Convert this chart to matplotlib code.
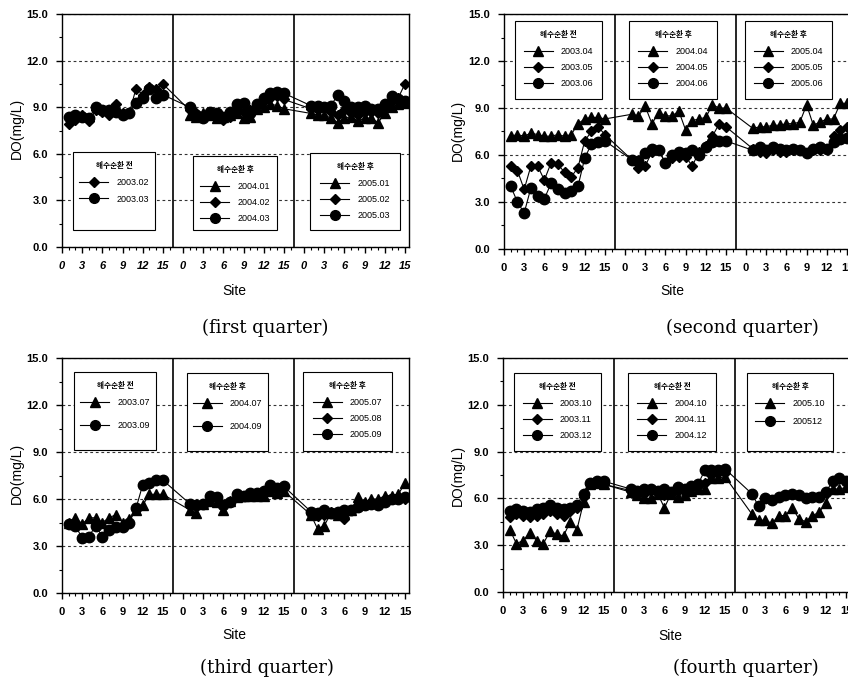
import matplotlib.pyplot as plt
import matplotlib.patches as mpatches
from matplotlib.lines import Line2D
import numpy as np

plt.rcParams['font.family'] = ['Liberation Sans', 'Noto Sans CJK KR']

W, H = 848, 683
sites = np.arange(1, 16)
offsets = [0, 18, 36]
dividers = [16.5, 34.5]
site_ticks = [0, 3, 6, 9, 12, 15]

# first quarter
q1_dia_2003 = [7.9, 8.2, 8.5, 8.1, 8.8, 8.7, 8.5, 9.2, 8.6, 8.6, 10.2, 9.8, 10.3, 10.2, 10.5]
q1_cir_2003 = [8.4, 8.5, 8.4, 8.3, 9.0, 8.8, 8.8, 8.7, 8.5, 8.6, 9.3, 9.6, 10.2, 9.6, 9.8]
q1_tri_2004 = [8.5, 8.4, 8.6, 8.5, 8.3, 8.4, 8.5, 8.6, 8.3, 8.4, 8.9, 9.0, 9.2, 9.1, 8.9]
q1_dia_2004 = [8.8, 8.6, 8.5, 8.6, 8.5, 8.2, 8.4, 8.9, 8.7, 8.8, 9.1, 9.4, 9.6, 9.7, 9.5]
q1_cir_2004 = [9.0, 8.5, 8.3, 8.7, 8.6, 8.4, 8.7, 9.2, 9.3, 8.6, 9.2, 9.6, 9.9, 10.0, 9.9]
q1_tri_2005 = [8.6, 8.5, 8.5, 8.3, 8.0, 8.3, 8.4, 8.1, 8.3, 8.3, 8.0, 8.6, 9.0, 9.2, 9.3]
q1_dia_2005 = [8.9, 8.8, 9.0, 8.7, 8.5, 8.8, 8.6, 8.5, 8.7, 8.7, 8.6, 9.0, 9.4, 9.6, 10.5]
q1_cir_2005 = [9.1, 9.1, 9.0, 9.1, 9.8, 9.4, 9.0, 9.0, 9.1, 8.9, 8.9, 9.2, 9.7, 9.5, 9.4]

# second quarter
q2_tri_2003 = [7.2, 7.3, 7.2, 7.4, 7.3, 7.2, 7.2, 7.3, 7.2, 7.3, 8.0, 8.3, 8.4, 8.4, 8.3]
q2_dia_2003 = [5.3, 5.0, 3.8, 5.3, 5.3, 4.4, 5.5, 5.4, 4.9, 4.6, 5.2, 6.9, 7.5, 7.8, 7.3]
q2_cir_2003 = [4.0, 3.0, 2.3, 3.9, 3.4, 3.2, 4.2, 3.8, 3.6, 3.7, 4.0, 5.8, 6.7, 6.8, 6.9]
q2_tri_2004 = [8.6, 8.5, 9.1, 8.0, 8.7, 8.5, 8.5, 8.8, 7.6, 8.2, 8.3, 8.4, 9.2, 9.0, 9.0]
q2_dia_2004 = [5.7, 5.2, 5.3, 6.2, 6.3, 5.5, 5.8, 5.9, 5.9, 5.3, 6.2, 6.6, 7.2, 8.0, 7.8]
q2_cir_2004 = [5.7, 5.6, 6.1, 6.4, 6.3, 5.5, 6.0, 6.2, 6.1, 6.3, 6.0, 6.5, 6.8, 6.9, 6.9]
q2_tri_2005 = [7.7, 7.8, 7.8, 7.9, 7.9, 8.0, 8.0, 8.1, 9.2, 7.9, 8.1, 8.3, 8.3, 9.3, 9.3]
q2_dia_2005 = [6.4, 6.2, 6.1, 6.3, 6.2, 6.2, 6.3, 6.3, 6.1, 6.3, 6.3, 6.4, 7.2, 7.6, 7.8]
q2_cir_2005 = [6.3, 6.5, 6.3, 6.5, 6.4, 6.3, 6.4, 6.3, 6.1, 6.4, 6.5, 6.4, 6.8, 7.0, 7.1]

# third quarter
q3_tri_2003 = [4.5, 4.8, 4.4, 4.8, 4.8, 4.5, 4.8, 5.0, 4.5, 4.7, 5.3, 5.6, 6.3, 6.3, 6.3]
q3_cir_2003 = [4.4, 4.3, 3.5, 3.6, 4.3, 3.6, 4.0, 4.2, 4.2, 4.5, 5.4, 6.9, 7.0, 7.2, 7.2]
q3_tri_2004 = [5.3, 5.1, 5.7, 5.9, 5.8, 5.3, 5.9, 6.1, 6.2, 6.2, 6.2, 6.2, 6.5, 6.4, 6.5]
q3_cir_2004 = [5.7, 5.6, 5.7, 6.2, 6.1, 5.6, 5.8, 6.3, 6.2, 6.4, 6.4, 6.5, 6.9, 6.7, 6.8]
q3_tri_2005 = [5.0, 4.1, 4.3, 5.1, 5.0, 5.1, 5.3, 6.1, 5.8, 6.0, 6.0, 6.2, 6.2, 6.3, 7.0]
q3_dia_2005 = [5.1, 4.9, 5.0, 5.2, 5.0, 4.7, 5.3, 5.5, 5.6, 5.8, 5.7, 5.9, 6.0, 6.1, 6.0]
q3_cir_2005 = [5.2, 5.1, 5.3, 5.1, 5.2, 5.3, 5.3, 5.5, 5.6, 5.7, 5.6, 5.8, 6.0, 6.0, 6.1]

# fourth quarter
q4_tri_2003 = [4.0, 3.1, 3.3, 3.8, 3.3, 3.1, 3.9, 3.7, 3.6, 4.5, 4.0, 5.8, 6.9, 7.0, 6.9]
q4_dia_2003 = [4.8, 5.0, 4.9, 4.8, 4.9, 5.0, 5.2, 5.0, 4.9, 5.2, 5.4, 6.1, 6.9, 7.0, 6.9]
q4_cir_2003 = [5.2, 5.3, 5.2, 5.1, 5.3, 5.4, 5.6, 5.4, 5.3, 5.4, 5.6, 6.3, 7.0, 7.1, 7.1]
q4_tri_2004 = [6.4, 6.2, 6.0, 6.0, 6.3, 5.4, 6.3, 6.1, 6.2, 6.5, 6.6, 6.6, 7.3, 7.3, 7.4]
q4_dia_2004 = [6.5, 6.4, 6.3, 6.5, 6.4, 6.2, 6.4, 6.5, 6.4, 6.7, 6.8, 7.0, 7.5, 7.6, 7.6]
q4_cir_2004 = [6.6, 6.5, 6.6, 6.6, 6.5, 6.6, 6.4, 6.7, 6.6, 6.8, 6.9, 7.8, 7.8, 7.8, 7.9]
q4_tri_2005 = [5.0, 4.6, 4.6, 4.4, 4.9, 4.9, 5.4, 4.7, 4.5, 4.9, 5.1, 5.7, 6.6, 6.6, 6.7]
q4_cir_2005 = [6.3, 5.5, 6.0, 5.9, 6.1, 6.2, 6.3, 6.2, 6.0, 6.1, 6.1, 6.4, 7.1, 7.3, 7.1]

before, after = '해수순환 전', '해수순환 후'

# (marker, values per section, legend label per section)
panels = [
    dict(caption='(first quarter)', titles=[before, after, after], series=[
        ('^', [None, q1_tri_2004, q1_tri_2005], [None, '2004.01', '2005.01']),
        ('D', [q1_dia_2003, q1_dia_2004, q1_dia_2005], ['2003.02', '2004.02', '2005.02']),
        ('o', [q1_cir_2003, q1_cir_2004, q1_cir_2005], ['2003.03', '2004.03', '2005.03'])]),
    dict(caption='(second quarter)', titles=[before, after, after], series=[
        ('^', [q2_tri_2003, q2_tri_2004, q2_tri_2005], ['2003.04', '2004.04', '2005.04']),
        ('D', [q2_dia_2003, q2_dia_2004, q2_dia_2005], ['2003.05', '2004.05', '2005.05']),
        ('o', [q2_cir_2003, q2_cir_2004, q2_cir_2005], ['2003.06', '2004.06', '2005.06'])]),
    dict(caption='(third quarter)', titles=[before, after, after], series=[
        ('^', [q3_tri_2003, q3_tri_2004, q3_tri_2005], ['2003.07', '2004.07', '2005.07']),
        ('D', [None, None, q3_dia_2005], [None, None, '2005.08']),
        ('o', [q3_cir_2003, q3_cir_2004, q3_cir_2005], ['2003.09', '2004.09', '2005.09'])]),
    dict(caption='(fourth quarter)', titles=[before, before, after], series=[
        ('^', [q4_tri_2003, q4_tri_2004, q4_tri_2005], ['2003.10', '2004.10', '2005.10']),
        ('D', [q4_dia_2003, q4_dia_2004, None], ['2003.11', '2004.11', None]),
        ('o', [q4_cir_2003, q4_cir_2004, q4_cir_2005], ['2003.12', '2004.12', '200512'])]),
]

# layout in pixels: axes (left, top, bottom), caption, site label, y label centres,
# legend boxes (x0, x1, y0, y1) and the row spacing inside each box
layout = [
    dict(ax=(62, 14, 247), cap=(265, 328), site=(234, 291), ylab=(17, 128),
         boxes=[(73, 155, 152, 230), (193, 277, 156, 230), (310, 400, 153, 230)],
         spacing=[0.8, 0.75, 0.75]),
    dict(ax=(504, 14, 249), cap=(742, 328), site=(672, 291), ylab=(458, 130),
         boxes=[(515, 602, 21, 99), (629, 717, 21, 99), (745, 832, 21, 99)],
         spacing=[0.75, 0.75, 0.75]),
    dict(ax=(62, 358, 593), cap=(267, 668), site=(234, 635), ylab=(17, 473),
         boxes=[(74, 156, 372, 450), (187, 268, 373, 451), (303, 392, 372, 451)],
         spacing=[1.5, 1.5, 0.75]),
    dict(ax=(503, 358, 592), cap=(746, 668), site=(670, 636), ylab=(458, 475),
         boxes=[(514, 601, 373, 451), (628, 716, 373, 451), (747, 833, 373, 451)],
         spacing=[0.75, 0.75, 1.0]),
]
ax_w = 347
xmax = 51.6
msizes = {'^': 7, 'D': 5.5, 'o': 7.5}

fig = plt.figure(figsize=(W / 100, H / 100), dpi=100)

for k, (p, lay) in enumerate(zip(panels, layout)):
    left, top, bottom = lay['ax']
    ax = fig.add_axes([left / W, 1 - bottom / H, ax_w / W, (bottom - top) / H])
    ax.set_xlim(0, xmax)
    ax.set_ylim(0, 15)

    for marker, vals, labels in p['series']:
        xs, ys = [], []
        for off, v in zip(offsets, vals):
            if v is None:
                continue
            xs.extend(off + sites)
            ys.extend(v)
        ax.plot(xs, ys, color='k', lw=0.8, marker=marker, ms=msizes[marker],
                mfc='k', mec='k', zorder=3)

    for d in dividers:
        ax.axvline(d, color='k', lw=1.2, zorder=4)

    major = [off + s for off in offsets for s in site_ticks]
    minor = [off + s for off in offsets for s in range(17) if s not in site_ticks and off + s < xmax]
    ax.set_xticks(major)
    ax.set_xticks(minor, minor=True)
    ax.set_xticklabels([str(s) for off in offsets for s in site_ticks],
                       fontweight='bold', fontsize=8, fontstyle='italic' if k == 0 else 'normal')
    ax.set_yticks(np.arange(0, 15.1, 3))
    ax.set_yticks(np.arange(1.5, 15, 3), minor=True)
    ax.set_yticklabels([f'{v:.1f}' for v in np.arange(0, 15.1, 3)], fontweight='bold', fontsize=8)
    ax.tick_params(which='major', length=4, width=1, pad=6)
    ax.tick_params(which='minor', length=2.5, width=0.8)
    ax.grid(axis='y', which='major', color='0.2', lw=0.8, linestyle=(0, (2.5, 2.5)))
    ax.set_axisbelow(True)
    for sp in ax.spines.values():
        sp.set_linewidth(1.0)

    # legend boxes, one per section
    for j, (x0, x1, y0, y1) in enumerate(lay['boxes']):
        bx0 = (x0 - left) / ax_w
        bw = (x1 - x0) / ax_w
        by0 = (bottom - y1) / (bottom - top)
        bh = (y1 - y0) / (bottom - top)
        ax.add_patch(mpatches.Rectangle((bx0, by0), bw, bh, transform=ax.transAxes,
                                        fc='white', ec='k', lw=0.8, zorder=5))
        handles = []
        for marker, vals, labels in p['series']:
            if vals[j] is None:
                continue
            handles.append(Line2D([], [], color='k', lw=0.8, marker=marker,
                                  ms=msizes[marker] - 0.5, mfc='k', mec='k', label=labels[j]))
        leg = ax.legend(handles=handles, title=p['titles'][j], loc='upper center',
                        bbox_to_anchor=(bx0 + bw / 2, by0 + bh), frameon=False,
                        fontsize=6.5, title_fontsize=5.5, handlelength=3.2,
                        handletextpad=0.9, labelspacing=lay['spacing'][j], borderpad=0.5)
        leg.get_title().set_fontweight('bold')
        leg.get_title().set_fontfamily(['Noto Sans CJK KR', 'Liberation Sans'])
        leg._legend_box.sep = 6
        leg.set_zorder(6)
        ax.add_artist(leg)
    ax.legend_ = None

    fig.text(lay['site'][0] / W, 1 - lay['site'][1] / H, 'Site', ha='center', va='center', fontsize=10)
    fig.text(lay['ylab'][0] / W, 1 - lay['ylab'][1] / H, 'DO(mg/L)', ha='center', va='center',
             rotation=90, fontsize=10)
    fig.text(lay['cap'][0] / W, 1 - lay['cap'][1] / H, p['caption'], ha='center', va='center',
             fontsize=13, family='DejaVu Serif')

fig.savefig('out.png', dpi=100)
